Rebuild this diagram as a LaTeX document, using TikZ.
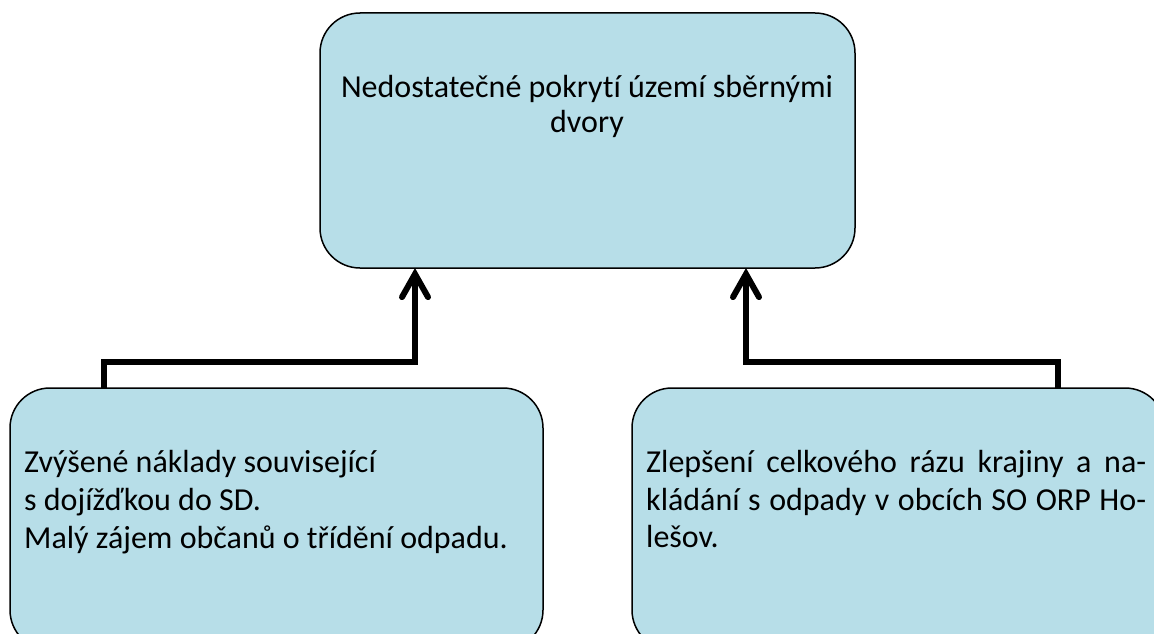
\documentclass[tikz,border=0pt]{standalone}
\usepackage{fontspec}
\setmainfont{Carlito}[Ligatures=NoCommon]
\usetikzlibrary{arrows.meta}
\definecolor{boxfill}{HTML}{B7DEE8}
\begin{document}
\begin{tikzpicture}[x=1pt,y=-1pt,
  box/.style={draw=black, line width=1.5pt, fill=boxfill, rounded corners=40pt, inner sep=0pt, outer sep=0pt},
  conn/.style={line width=6pt, -{Straight Barb[length=23pt,width=26pt,line cap=round]}},
  txt/.style={font=\fontsize{32}{38}\selectfont, inner sep=0pt}]
\useasboundingbox (0,0) rectangle (1154,634);
\clip (0,0) rectangle (1154,634);
\node[box, minimum width=535pt, minimum height=255pt, anchor=north west] (top) at (320,13) {};
\node[box, minimum width=533pt, minimum height=262pt, anchor=north west] (left) at (10,388) {};
\node[box, minimum width=533pt, minimum height=262pt, anchor=north west] (right) at (632,388) {};
\draw[conn] ([xshift=94pt]left.north west) -- ++(0,-26) -| ([xshift=95pt]top.south west);
\draw[conn] ([xshift=426pt]right.north west) -- ++(0,-26) -| ([xshift=-109pt]top.south east);
\node[txt, anchor=base] (t1) at (587,97) {Nedostatečné pokrytí území sběrnými};
\node[txt, anchor=base] (t2) at (587,132) {dvory};
\node[txt, anchor=base west] (l1) at (24,472) {Zvýšené náklady související};
\node[txt, anchor=base west] (l2) at (24,510) {s dojížďkou do SD.};
\node[txt, anchor=base west] (l3) at (24,548) {Malý zájem občanů o třídění odpadu.};
\node[txt, anchor=base west] (r1) at (646,472) {\makebox[500pt][s]{Zlepšení celkového rázu krajiny a na-}};
\node[txt, anchor=base west] (r2) at (646,510) {\makebox[500pt][s]{kládání s odpady v obcích SO ORP Ho-}};
\node[txt, anchor=base west] (r3) at (646,547) {lešov.};
\end{tikzpicture}
\end{document}
